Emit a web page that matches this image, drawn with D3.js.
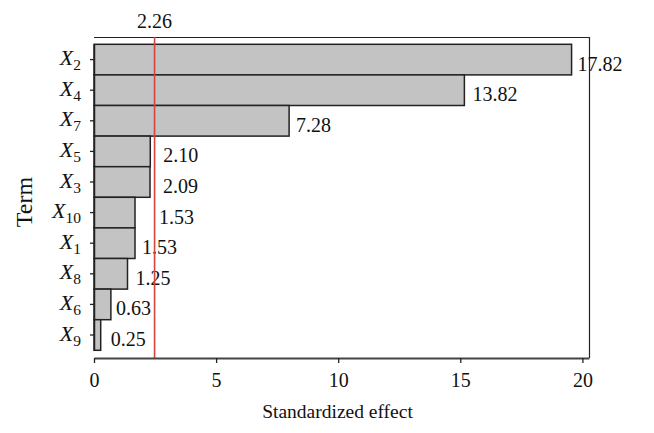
<!DOCTYPE html>
<html>
<head>
<meta charset="utf-8">
<script src="https://cdn.jsdelivr.net/npm/d3@7"></script>
<style>
  body { margin: 0; background: #fff; }
  text { font-family: "Liberation Serif", "DejaVu Serif", serif; fill: #111; }
</style>
</head>
<body>
<script>
// Terms, top to bottom (subscript index of X)
var terms = ["2", "4", "7", "5", "3", "10", "1", "8", "6", "9"];
// Standardized effect values as printed next to each bar
var effects = [17.82, 13.82, 7.28, 2.10, 2.09, 1.53, 1.53, 1.25, 0.63, 0.25];
// Critical value (red reference line)
var critical = 2.26;
// Axis tick labels
var xTicks = [0, 5, 10, 15, 20];

// little horizontal nudges so labels clear the red line, like the original
var labelNudge = [6, 8, 7, 13, 13, 24, 7, 8, 5, 10];

var margin = {top: 37, right: 65, bottom: 75, left: 94},
    width = 654 - margin.left - margin.right,
    height = 433 - margin.top - margin.bottom;

// bars are drawn on their own scale, the printed axis runs a bit wider
var x = d3.scaleLinear().domain([0, 18.47]).range([0, width]);
var xAxisScale = d3.scaleLinear().domain([0, 20.27]).range([0, width]);

var y = d3.scaleBand()
    .domain(terms)
    .range([7.3, 313.3])
    .padding(0);

var svg = d3.select("body")
    .append("svg")
        .attr("width", 654)
        .attr("height", 433)
    .append("g")
        .attr("transform", "translate(" + margin.left + "," + margin.top + ")");

// frame (top + right)
svg.append("path")
    .attr("d", "M0,0.5H" + (width + 0.5) + "V" + height)
    .attr("fill", "none")
    .attr("stroke", "#222")
    .attr("stroke-width", 1.2);

// bars
svg.selectAll(".bar")
    .data(effects)
    .enter().append("rect")
        .attr("class", "bar")
        .attr("x", 0)
        .attr("y", function(d, i) { return y(terms[i]); })
        .attr("width", function(d) { return x(d); })
        .attr("height", y.bandwidth())
        .attr("fill", "#c3c3c3")
        .attr("stroke", "#222")
        .attr("stroke-width", 1.5);

// value labels
svg.selectAll(".val")
    .data(effects)
    .enter().append("text")
        .attr("class", "val")
        .attr("x", function(d, i) { return x(d) + labelNudge[i]; })
        .attr("y", function(d, i) { return y(terms[i]) + y.bandwidth() / 2 + 11; })
        .style("font-size", "20px")
        .text(function(d) { return d.toFixed(2); });

// critical value line
svg.append("line")
    .attr("x1", x(critical)).attr("x2", x(critical))
    .attr("y1", 0).attr("y2", height)
    .attr("stroke", "#d4453f")
    .attr("stroke-width", 1.6);

svg.append("text")
    .attr("x", x(critical))
    .attr("y", -9)
    .attr("text-anchor", "middle")
    .style("font-size", "20px")
    .text(critical.toFixed(2));

// x axis
var xAxis = d3.axisBottom(xAxisScale)
    .tickValues(xTicks)
    .tickSize(5)
    .tickSizeOuter(0)
    .tickFormat(d3.format("d"));

var gx = svg.append("g")
    .attr("transform", "translate(0," + height + ")")
    .call(xAxis);
gx.select(".domain").attr("stroke", "#444").attr("stroke-width", 2.2);
gx.selectAll(".tick line").attr("stroke", "#222").attr("stroke-width", 1.3);
gx.selectAll(".tick text")
    .attr("y", 29)
    .attr("dy", null)
    .style("font-size", "20px")
    .style("font-family", "Liberation Serif, serif")
    .attr("fill", "#111");

// y axis (labels drawn separately for the subscripts)
var yAxis = d3.axisLeft(y).tickSize(4).tickSizeOuter(0).tickFormat("");
var gy = svg.append("g").call(yAxis);
gy.select(".domain").attr("stroke", "#222").attr("stroke-width", 1.5);
gy.selectAll(".tick line").attr("stroke", "#222").attr("stroke-width", 1.3);

var ylab = svg.selectAll(".term")
    .data(terms)
    .enter().append("text")
        .attr("class", "term")
        .attr("x", -13)
        .attr("y", function(d) { return y(d) + y.bandwidth() / 2 + 5.5; })
        .attr("text-anchor", "end")
        .style("font-size", "22px");
ylab.append("tspan")
    .style("font-style", "italic")
    .text("X");
ylab.append("tspan")
    .attr("dy", 5)
    .style("font-size", "15.5px")
    .text(function(d) { return d; });

// axis titles
svg.append("text")
    .attr("x", width / 2 - 4)
    .attr("y", height + 60)
    .attr("text-anchor", "middle")
    .style("font-size", "19.5px")
    .text("Standardized effect");

svg.append("text")
    .attr("transform", "translate(" + (32 - margin.left) + "," + (202 - margin.top) + ") rotate(-90)")
    .attr("text-anchor", "middle")
    .style("font-size", "24px")
    .text("Term");
</script>
</body>
</html>
